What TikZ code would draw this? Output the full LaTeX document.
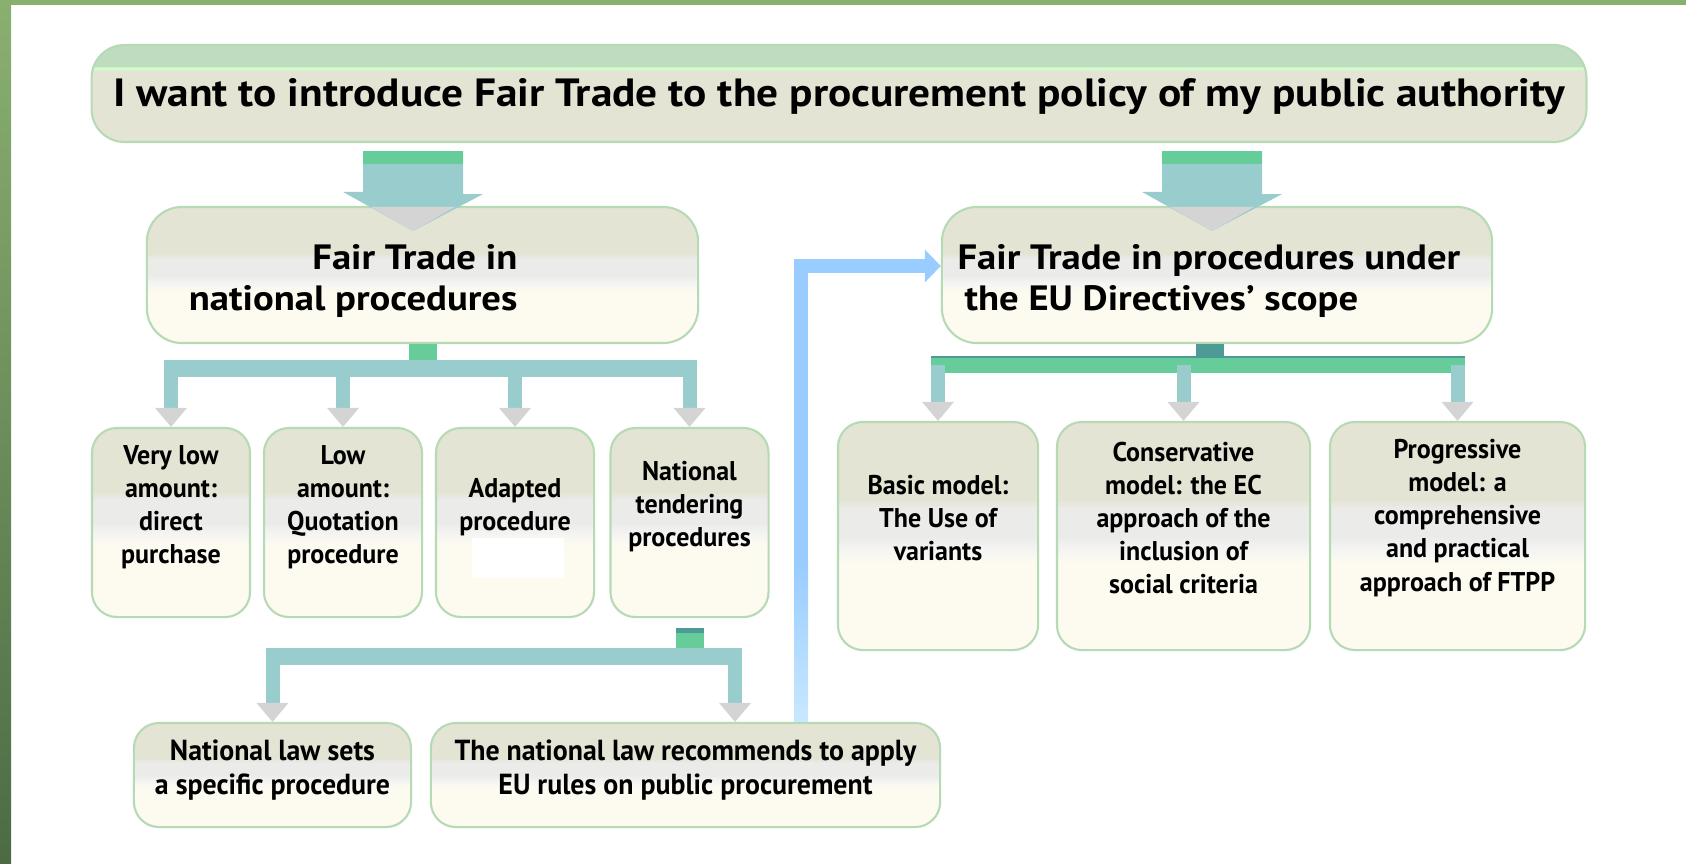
\documentclass[tikz,border=0pt]{standalone}
\usepackage{fontspec}
\setmainfont{PT Sans}
\newfontfamily\widefont[FakeStretch=1.1]{PT Sans}
\newfontfamily\condfont[FakeStretch=0.96]{PT Sans}
\usetikzlibrary{arrows.meta}

\definecolor{framegreen}{HTML}{8AB070}
\definecolor{framedark}{HTML}{4C6B45}
\definecolor{boxline}{HTML}{B6DAB4}
\definecolor{bxbeige}{HTML}{E4E4D4}
\definecolor{bxgray}{HTML}{EBEBEA}
\definecolor{bxlight}{HTML}{F4F4F2}
\definecolor{bxcream}{HTML}{FDFAF0}
\definecolor{topgreen}{HTML}{C0DCC0}
\definecolor{ltgreen}{HTML}{CCFFCC}
\definecolor{arrowteal}{HTML}{99CCCC}
\definecolor{arrowgreen}{HTML}{66CC99}
\definecolor{darkteal}{HTML}{4D9A96}
\definecolor{headgray}{HTML}{D4D4D4}
\definecolor{linkblue}{HTML}{99CCFF}
\definecolor{linkpale}{HTML}{C8E8FF}

\pgfdeclareverticalshading{boxfill}{100bp}{color(0bp)=(bxcream); color(44bp)=(bxcream); color(47bp)=(bxlight); color(50bp)=(bxgray); color(56bp)=(bxgray); color(58bp)=(bxbeige); color(100bp)=(bxbeige)}
\pgfdeclareverticalshading{topfill}{100bp}{color(0bp)=(bxbeige); color(62bp)=(bxbeige); color(62.5bp)=(ltgreen); color(63.5bp)=(ltgreen); color(64bp)=(topgreen); color(100bp)=(topgreen)}

\begin{document}
\begin{tikzpicture}[x=0.01cm,y=-0.01cm,
    bigbox/.style={draw=boxline,line width=0.6pt,shade,shading=boxfill,rounded corners=0.35cm,minimum height=1.36cm},
    smallbox/.style={draw=boxline,line width=0.6pt,shade,shading=boxfill,rounded corners=0.25cm},
    bigtxt/.style={font=\widefont\bfseries\fontsize{10}{11.7}\selectfont,inner sep=0pt},
    smalltxt/.style={font=\condfont\bfseries\fontsize{7.7}{9.4}\selectfont,align=center,inner sep=0pt},
    lawtxt/.style={font=\condfont\bfseries\fontsize{8.25}{9.7}\selectfont,align=center,inner sep=0pt},
    fork/.style={arrowteal,line width=0.14cm,-{Triangle[width=0.32cm,length=0.19cm,line width=0pt,color=headgray]}},
    bar/.style={arrowteal,line width=0.17cm,shorten <=-0.07cm,shorten >=-0.07cm}]
    \useasboundingbox (0,0) rectangle (1686,863);
    % frame
    \shade[top color=framegreen,bottom color=framedark] (0,0) rectangle (11,863);
    \fill[framegreen] (0,0) rectangle (1686,5);

    % boxes
    \node[bigbox,shading=topfill,rounded corners=0.33cm,minimum width=14.94cm,minimum height=0.97cm] (intro) at (839,93.5) {};
    \node[font=\widefont\bfseries\fontsize{11.2}{13}\selectfont,inner sep=0pt] (intro-txt) at ([yshift=-0.03cm]intro.center)
        {I want to introduce Fair Trade to the procurement policy of my public authority};

    \node[bigbox,minimum width=5.51cm] (nat) at (422.5,275) {};
    \node[bigtxt,align=right,anchor=east] (nat-txt) at ([xshift=-1.81cm,yshift=-0.06cm]nat.east)
        {Fair Trade in\\national procedures};
    \node[bigbox,minimum width=5.5cm] (eu) at (1217,275) {};
    \node[bigtxt,align=left,anchor=west] (eu-txt) at ([xshift=0.16cm,yshift=-0.06cm]eu.west)
        {Fair Trade in procedures under\\\hspace*{0.07cm}the EU Directives’ scope};

    \foreach \n/\x/\t in {vlow/171/{Very low\\amount:\\direct\\purchase},
        low/343/{Low\\amount:\\Quotation\\procedure},
        adapt/515/{Adapted\\procedure},
        tender/689.5/{National\\tendering\\procedures}}{
        \node[smallbox,minimum width=1.58cm,minimum height=1.89cm] (\n) at (\x,522.5) {};
        \node[smalltxt] (\n-txt) at ([yshift=0.155cm]\n.center) {\t};
    }
    \fill[white] (472,538) rectangle (564,578);

    \foreach \n/\x/\w/\t in {basic/938/2.0/{Basic model:\\The Use of\\variants},
        cons/1183.5/2.53/{Conservative\\model: the EC\\approach of the\\inclusion of\\social criteria},
        prog/1457.5/2.55/{Progressive\\model: a\\comprehensive\\and practical\\approach of FTPP}}{
        \node[smallbox,minimum width=\w cm,minimum height=2.28cm] (\n) at (\x,536) {};
        \node[smalltxt] (\n-txt) at ([yshift=0.18cm]\n.center) {\t};
    }

    \node[smallbox,minimum width=2.77cm,minimum height=1.04cm] (spec) at (272.5,775) {};
    \node[lawtxt] (spec-txt) at ([yshift=0.05cm]spec.center) {National law sets\\a specific procedure};
    \node[smallbox,minimum width=5.09cm,minimum height=1.04cm] (rules) at (685.5,775) {};
    \node[lawtxt] (rules-txt) at ([yshift=0.05cm]rules.center)
        {The national law recommends to apply\\EU rules on public procurement};

    % big arrows from the title box
    \foreach \n/\s in {nat/-0.095,eu/-0.05}{
        \coordinate (\n-in) at ([xshift=\s cm]\n.north);
        \coordinate (\n-top) at (intro.south -| \n-in);
        \coordinate (\n-tip) at ([yshift=-0.25cm]\n-in);
        \fill[arrowteal] (\n-top) ++(-50,8) -- ++(100,0) -- ++(0,43) -- ++(20,0) -- (\n-tip)
            -- ++(-70,-39) -- ++(20,0) -- cycle;
        \fill[arrowgreen] (\n-top) ++(-50,8) rectangle ++(100,13);
        \fill[headgray] (\n-tip) -- ++(-42,-24) -- ++(84,0) -- cycle;
    }

    % national procedures
    \coordinate (natbar) at (0,368.5);
    \fill[arrowgreen] ([xshift=-0.14cm]nat.south) rectangle ++(28,17);
    \draw[bar] (vlow.north |- natbar) -- (tender.north |- natbar);
    \foreach \n in {vlow,low,adapt,tender}
        \draw[fork] (\n.north |- natbar) -- (\n.north);

    % EU directives
    \coordinate (eubar) at (0,364.5);
    \coordinate (eubartop) at (0,357);
    \fill[darkteal] ([xshift=-0.21cm]eu.south) rectangle ++(28,13);
    \draw[bar,arrowgreen] (basic.north |- eubar) -- (prog.north |- eubar);
    \draw[darkteal,line width=0.025cm,shorten <=-0.07cm,shorten >=-0.07cm] (basic.north |- eubartop) -- (prog.north |- eubartop);
    \foreach \n in {basic,cons,prog}
        \draw[fork] (\n.north |- eubar) -- (\n.north);

    % national tendering
    \coordinate (lawbar) at (0,656.5);
    \coordinate (rules-in) at ([xshift=0.495cm]rules.north);
    \fill[darkteal] ([xshift=-0.14cm,yshift=-0.1cm]tender.south) rectangle ++(28,5);
    \fill[arrowgreen] ([xshift=-0.14cm,yshift=-0.1cm]tender.south) ++(0,5) rectangle ++(28,16);
    \draw[bar] (spec.north |- lawbar) -- (rules-in |- lawbar);
    \draw[fork] (spec.north |- lawbar) -- (spec.north);
    \draw[fork] (rules-in |- lawbar) -- (rules-in);

    % link to the EU box
    \coordinate (link-out) at ([xshift=1.155cm]rules.north);
    \draw[linkblue,line width=0.14cm,-{Triangle[width=0.33cm,length=0.16cm,line width=0pt]}]
        (link-out) |- ([yshift=0.09cm]eu.west);
    \shade[top color=linkblue,bottom color=linkpale] (link-out) ++(-7,-160) rectangle ++(14,160);
\end{tikzpicture}
\end{document}
